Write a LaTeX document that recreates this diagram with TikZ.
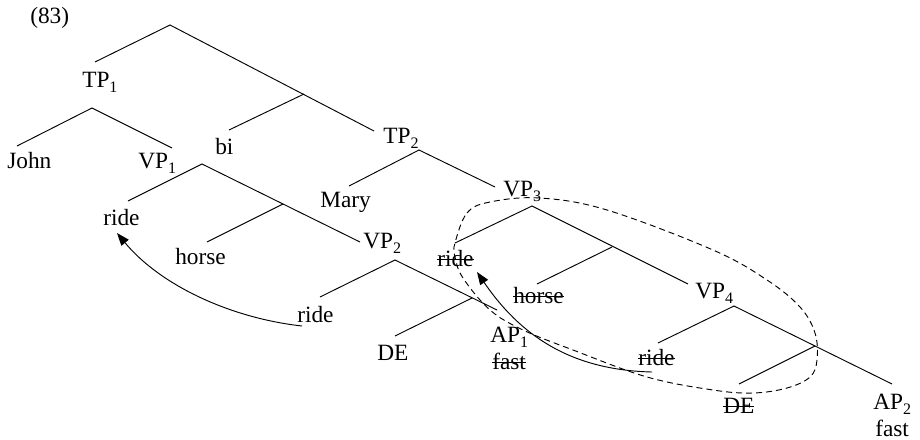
\documentclass[tikz,border=0pt]{standalone}
\usepackage{fontspec}
\setmainfont{Liberation Serif}
\usetikzlibrary{arrows.meta}
% lowered small index digit
\newcommand\lsub[1]{\raisebox{-4pt}{\fontsize{12}{12}\selectfont #1}}
% struck-through (deleted) copy
\newcommand\strk[1]{\setbox0\hbox{#1}\rlap{\rule[0.26em]{\wd0}{0.8pt}}\box0}
\begin{document}
\begin{tikzpicture}[x=0.75pt,y=-0.75pt,
  lbl/.style={anchor=base west,inner sep=0pt,font=\fontsize{17.5}{20}\selectfont},
  branch/.style={line width=0.7pt},
  movearrow/.style={line width=0.7pt,-{Triangle[length=9.5pt,width=7pt]}},
  ellipsisloop/.style={line width=0.7pt,dash pattern=on 4.5pt off 3pt}]
\useasboundingbox (0,0) rectangle (920,439);

% labels
\node[lbl] (ex)    at (30,23)   {(83)};
\node[lbl] (tp1)   at (82,87)   {TP\lsub{1}};
\node[lbl] (john)  at (7,168)   {John};
\node[lbl] (vp1)   at (138,168) {VP\lsub{1}};
\node[lbl] (bi)    at (215,154) {bi};
\node[lbl] (tp2)   at (383,143) {TP\lsub{2}};
\node[lbl] (mary)  at (320,207) {Mary};
\node[lbl] (rideA) at (103,225) {ride};
\node[lbl] (horseA) at (175,264) {horse};
\node[lbl] (vp2)   at (363,248) {VP\lsub{2}};
\node[lbl] (rideB) at (297,322) {ride};
\node[lbl] (deA)   at (377,360) {DE};
\node[lbl] (ap1)   at (490,342) {AP\lsub{1}};
\node[lbl] (fastA) at (492,369) {\strk{fast}};
\node[lbl] (vp3)   at (503,196) {VP\lsub{3}};
\node[lbl] (rideC) at (437,266) {\strk{ride}};
\node[lbl] (horseB) at (513,303) {\strk{horse}};
\node[lbl] (vp4)   at (695,298) {VP\lsub{4}};
\node[lbl] (rideD) at (638,365) {\strk{ride}};
\node[lbl] (deB)   at (723,413) {\strk{DE}};
\node[lbl] (ap2)   at (873,409) {AP\lsub{2}};
\node[lbl] (fastB) at (875,436) {fast};

% branching points and branch ends
\coordinate (r0) at (170,25);
\coordinate (r0l) at (95,62);
\coordinate (r0r) at (374,131);
\coordinate (j0) at (304,94);
\coordinate (j0l) at (229,130);

\coordinate (a1) at (92,108);
\coordinate (a1l) at (17,146);
\coordinate (a1r) at (172,148);

\coordinate (a2) at (419,150);
\coordinate (a2l) at (349,186);
\coordinate (a2r) at (495,187);

\coordinate (a3) at (202,164);
\coordinate (a3l) at (128,201);
\coordinate (a3r) at (360,242);
\coordinate (j1) at (283,204);
\coordinate (j1l) at (207,242);

\coordinate (a4) at (395,260);
\coordinate (a4l) at (320,297);
\coordinate (a4r) at (497,310);
\coordinate (j2) at (472,298);
\coordinate (j2l) at (395,336);

\coordinate (a5) at (532,206);
\coordinate (a5l) at (455,243);
\coordinate (a5r) at (688,284);
\coordinate (j3) at (612,247);
\coordinate (j3l) at (537,284);

\coordinate (a6) at (734,306);
\coordinate (a6l) at (658,343);
\coordinate (a6r) at (892,384);
\coordinate (j4) at (815,346);
\coordinate (j4l) at (739,384);

% tree branches
\draw[branch] (r0l) -- (r0) -- (r0r);
\draw[branch] (j0) -- (j0l);
\draw[branch] (a1l) -- (a1) -- (a1r);
\draw[branch] (a2l) -- (a2) -- (a2r);
\draw[branch] (a3l) -- (a3) -- (a3r);
\draw[branch] (j1) -- (j1l);
\draw[branch] (a4l) -- (a4) -- (a4r);
\draw[branch] (j2) -- (j2l);
\draw[branch] (a5l) -- (a5) -- (a5r);
\draw[branch] (j3) -- (j3l);
\draw[branch] (a6l) -- (a6) -- (a6r);
\draw[branch] (j4) -- (j4l);

% movement arrows
\coordinate (m1s) at (302,326);
\coordinate (m1e) at (117,233);
\coordinate (m2s) at (652,372);
\coordinate (m2e) at (477,272);
\draw[movearrow] (m1s) .. controls (230,318) and (160,285) .. (m1e);
\draw[movearrow] (m2s) .. controls (570,370) and (520,335) .. (m2e);

% dashed loop around the lower VP
\draw[ellipsisloop] plot[smooth cycle,tension=0.6] coordinates {
  (455,243) (467,213) (490,202) (540,198) (607,210) (713,250) (767,280)
  (800,307) (815,333) (817,360) (810,377) (787,388) (753,393) (713,390)
  (647,377) (573,350) (523,330) (490,310) (463,278) (455,257)};
\end{tikzpicture}
\end{document}
